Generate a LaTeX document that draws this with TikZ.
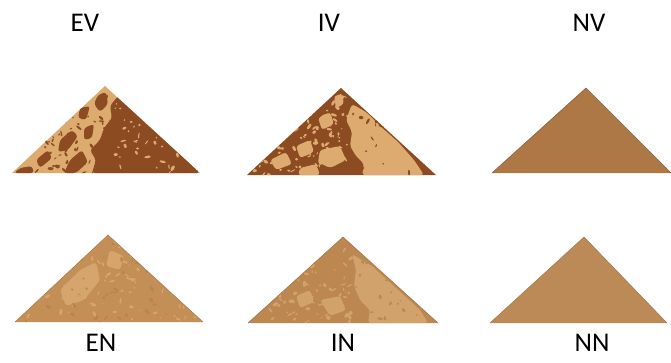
\documentclass[tikz,border=0pt]{standalone}
\usepackage{fontspec}
\setmainfont{Carlito}
\begin{document}
\begin{tikzpicture}[x=1pt,y=-1pt,
  lbl/.style={font=\fontsize{27}{27}\selectfont, text=black, inner sep=0pt},
  blob/.style={rounded corners=3pt}]
\definecolor{lighttan}{HTML}{DDAA70}
\definecolor{darkbrown}{HTML}{8C4B20}
\definecolor{nvcol}{HTML}{AD7845}
\definecolor{nncol}{HTML}{BC8A57}
\definecolor{encol}{HTML}{C48F57}
\definecolor{enlight}{HTML}{D6A46D}
\definecolor{endark}{HTML}{B8834C}
\definecolor{incol}{HTML}{BD8751}
\definecolor{inlight}{HTML}{D2A26D}
\useasboundingbox (0,0) rectangle (671,362);
\fill[white] (0,0) rectangle (671,362);

% labels
\node[lbl] (lEV) at (85,23) {EV};
\node[lbl] (lIV) at (329,23) {IV};
\node[lbl] (lNV) at (589,23) {NV};
\node[lbl] (lEN) at (101,343) {EN};
\node[lbl] (lIN) at (343,343) {IN};
\node[lbl] (lNN) at (592,343) {NN};

% ---------- EV ----------
\fill[lighttan] (12,173) -- (105,86) -- (200,173) -- cycle;
\begin{scope}
\clip (12,173) -- (105,86) -- (200,173) -- cycle;
\fill[darkbrown, blob] (118,96) -- (130,104) -- (200,173) -- (92,173) -- (96,160) -- (90,150) -- (100,140) -- (104,128) -- (112,118) -- (110,106) -- cycle;
\fill[darkbrown, blob] (98,95) -- (106,92) -- (108,104) -- (100,112) -- (94,104) -- cycle;
\fill[darkbrown, blob] (80,108) -- (90,106) -- (86,120) -- (78,118) -- cycle;
\fill[darkbrown, blob] (60,140) -- (72,130) -- (78,136) -- (68,150) -- (58,152) -- cycle;
\fill[darkbrown, blob] (36,160) -- (48,150) -- (52,158) -- (40,168) -- cycle;
\fill[darkbrown, blob] (20,168) -- (32,166) -- (34,173) -- (14,173) -- cycle;
\fill[darkbrown, blob] (70,160) -- (82,150) -- (88,162) -- (76,173) -- (64,173) -- cycle;
\fill[darkbrown, blob] (84,128) -- (94,124) -- (92,138) -- (84,140) -- cycle;
\pgfmathsetseed{11}
\foreach \i in {1,...,260}{
  \pgfmathsetmacro\px{15+185*rnd}
  \pgfmathsetmacro\py{90+83*rnd}
  \pgfmathsetmacro\ra{0.7+2.6*rnd}
  \pgfmathsetmacro\rb{0.5+1.2*rnd}
  \pgfmathsetmacro\rot{360*rnd}
  \ifdim\px pt>112pt
    \pgfmathparse{rnd<0.35 ? 1 : 0}
    \ifnum\pgfmathresult=1
      \fill[lighttan, rotate around={\rot:(\px,\py)}] (\px,\py) ellipse ({\ra} and {\rb});
    \fi
  \else
    \fill[darkbrown, rotate around={\rot:(\px,\py)}] (\px,\py) ellipse ({\ra} and {\rb});
  \fi
}
\end{scope}

% ---------- IV ----------
\fill[darkbrown] (247,175) -- (341,88) -- (436,175) -- cycle;
\begin{scope}
\clip (247,175) -- (341,88) -- (436,175) -- cycle;
\fill[lighttan, blob] (352,104) -- (366,112) -- (380,126) -- (398,142) -- (414,160) -- (424,175) -- (362,175) -- (364,164) -- (356,156) -- (350,146) -- (352,132) -- (346,120) -- cycle;
\fill[lighttan, blob] (334,96) -- (342,94) -- (344,104) -- (336,108) -- cycle;
\fill[lighttan, blob] (318,118) -- (330,112) -- (334,124) -- (322,130) -- cycle;
\fill[lighttan, blob] (296,146) -- (310,140) -- (314,152) -- (300,158) -- cycle;
\fill[lighttan, blob] (270,160) -- (286,152) -- (292,164) -- (276,170) -- cycle;
\fill[lighttan, blob] (320,150) -- (340,146) -- (346,160) -- (330,168) -- (318,162) -- cycle;
\fill[lighttan, blob] (300,168) -- (316,164) -- (320,175) -- (298,175) -- cycle;
\pgfmathsetseed{23}
\foreach \i in {1,...,220}{
  \pgfmathsetmacro\px{250+185*rnd}
  \pgfmathsetmacro\py{92+83*rnd}
  \pgfmathsetmacro\ra{0.7+2.6*rnd}
  \pgfmathsetmacro\rb{0.5+1.4*rnd}
  \pgfmathsetmacro\rot{360*rnd}
  \ifdim\px pt<350pt
    \fill[lighttan, rotate around={\rot:(\px,\py)}] (\px,\py) ellipse ({\ra} and {\rb});
  \else
    \pgfmathparse{rnd<0.3 ? 1 : 0}
    \ifnum\pgfmathresult=1
      \fill[darkbrown, rotate around={\rot:(\px,\py)}] (\px,\py) ellipse ({\ra} and {\rb});
    \fi
  \fi
}
\end{scope}

% ---------- NV ----------
\fill[nvcol] (492,173) -- (586,88) -- (671,173) -- cycle;
\draw[nvcol!80!black, line width=0.6pt] (492,173) -- (586,88) -- (671,173);

% ---------- EN ----------
\fill[encol] (15,322) -- (108,235) -- (203,322) -- cycle;
\begin{scope}
\clip (15,322) -- (108,235) -- (203,322) -- cycle;
\fill[enlight, blob] (60,290) -- (80,270) -- (96,262) -- (100,280) -- (84,300) -- (66,306) -- cycle;
\fill[enlight, blob] (110,250) -- (124,256) -- (120,270) -- (106,266) -- cycle;
\pgfmathsetseed{37}
\foreach \i in {1,...,200}{
  \pgfmathsetmacro\px{18+185*rnd}
  \pgfmathsetmacro\py{238+84*rnd}
  \pgfmathsetmacro\ra{0.7+2.6*rnd}
  \pgfmathsetmacro\rb{0.5+1.2*rnd}
  \pgfmathsetmacro\rot{360*rnd}
  \pgfmathparse{rnd<0.7 ? 1 : 0}
  \ifnum\pgfmathresult=1
    \fill[enlight, rotate around={\rot:(\px,\py)}] (\px,\py) ellipse ({\ra} and {\rb});
  \else
    \fill[endark, rotate around={\rot:(\px,\py)}] (\px,\py) ellipse ({\ra} and {\rb});
  \fi
}
\end{scope}
\draw[encol!85!black, line width=0.5pt] (15,322) -- (108,235) -- (203,322);

% ---------- IN ----------
\fill[incol] (248,323) -- (343,237) -- (438,323) -- cycle;
\begin{scope}
\clip (248,323) -- (343,237) -- (438,323) -- cycle;
\fill[inlight, blob] (352,254) -- (372,266) -- (396,288) -- (420,310) -- (428,323) -- (368,323) -- (370,310) -- (360,300) -- (354,286) -- (356,270) -- cycle;
\fill[inlight, blob] (296,296) -- (310,290) -- (314,302) -- (300,308) -- cycle;
\fill[inlight, blob] (320,300) -- (340,296) -- (346,310) -- (330,316) -- cycle;
\pgfmathsetseed{41}
\foreach \i in {1,...,200}{
  \pgfmathsetmacro\px{250+185*rnd}
  \pgfmathsetmacro\py{240+83*rnd}
  \pgfmathsetmacro\ra{0.7+2.4*rnd}
  \pgfmathsetmacro\rb{0.5+1.3*rnd}
  \pgfmathsetmacro\rot{360*rnd}
  \ifdim\px pt<352pt
    \fill[inlight, rotate around={\rot:(\px,\py)}] (\px,\py) ellipse ({\ra} and {\rb});
  \else
    \pgfmathparse{rnd<0.3 ? 1 : 0}
    \ifnum\pgfmathresult=1
      \fill[incol, rotate around={\rot:(\px,\py)}] (\px,\py) ellipse ({\ra} and {\rb});
    \fi
  \fi
}
\end{scope}
\draw[incol!85!black, line width=0.5pt] (248,323) -- (343,237) -- (438,323);

% ---------- NN ----------
\fill[nncol] (490,323) -- (584,237) -- (667,323) -- cycle;
\draw[nncol!85!black, line width=0.5pt] (490,323) -- (584,237) -- (667,323);
\end{tikzpicture}
\end{document}
